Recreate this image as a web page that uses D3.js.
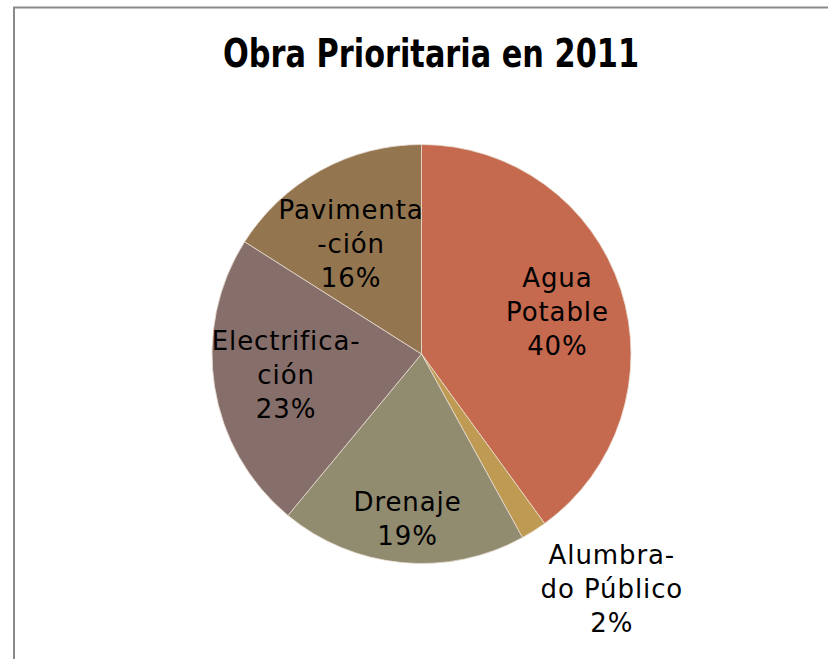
<!DOCTYPE html>
<html>
<head>
<meta charset="utf-8">
<script src="https://cdn.jsdelivr.net/npm/d3@7"></script>
<style>
  body { margin: 0; background: #fff; }
  svg text { font-family: "DejaVu Sans", sans-serif; fill: #000; }
</style>
</head>
<body>
<div id="chart"></div>
<script>
var width = 828, height = 659;

// chart data
var categories = ["Agua Potable", "Alumbrado Público", "Drenaje", "Electrificación", "Pavimentación"];
var values = [40, 2, 19, 23, 16];
var labelLines = [["Agua", "Potable"], ["Alumbra-", "do Público"], ["Drenaje"], ["Electrifica-", "ción"], ["Pavimenta", "-ción"]];
var colors = ["#c5694f", "#bf9a52", "#918b70", "#866e6a", "#937550"];
var title = "Obra Prioritaria en 2011";

// label placement (Excel "best fit"): angle offset in degrees, radius factor
var labelShift = [4.2, -5.6, -0.8, -3.5, -6];
var labelDist = [0.668, 1.476, 0.832, 0.662, 0.589];

var cx = 421.5, cy = 354, r = 209.5, lineH = 34;

var svg = d3.select("#chart").append("svg")
  .attr("width", width).attr("height", height);

// outer chart border
svg.append("rect")
  .attr("x", 14).attr("y", 7.5)
  .attr("width", 900).attr("height", 900)
  .attr("fill", "none").attr("stroke", "#8a8a8a").attr("stroke-width", 2);

svg.append("text")
  .attr("x", 431).attr("y", 67)
  .attr("text-anchor", "middle")
  .attr("textLength", 416)
  .attr("lengthAdjust", "spacingAndGlyphs")
  .style("font-weight", "bold").style("font-size", "39px")
  .text(title);

var pie = d3.pie().sort(null).value(d => d.value);
var arc = d3.arc().innerRadius(0).outerRadius(r);

var data = categories.map((c, i) => ({name: c, value: values[i], lines: labelLines[i], color: colors[i], i: i}));
var arcs = pie(data);

var g = svg.append("g").attr("transform", "translate(" + cx + "," + cy + ")");

g.selectAll("path")
  .data(arcs)
  .enter().append("path")
  .attr("d", arc)
  .attr("fill", d => d.data.color)
  .attr("stroke", "#e8ddd0")
  .attr("stroke-width", 0.8);

var labels = g.selectAll("text.lbl")
  .data(arcs)
  .enter().append("text")
  .attr("class", "lbl")
  .attr("text-anchor", "middle")
  .style("font-size", "26px")
  .style("letter-spacing", "0.9px")
  .attr("transform", d => {
    var a = (d.startAngle + d.endAngle) / 2 + labelShift[d.data.i] * Math.PI / 180;
    var rr = r * labelDist[d.data.i];
    return "translate(" + (rr * Math.sin(a)) + "," + (-rr * Math.cos(a)) + ")";
  });

labels.each(function(d) {
  var lines = d.data.lines.concat([d.data.value + "%"]);
  var n = lines.length;
  d3.select(this).selectAll("tspan")
    .data(lines)
    .enter().append("tspan")
    .attr("x", 0)
    .attr("y", (t, k) => (k - (n - 1) / 2) * lineH)
    .text(t => t);
});
</script>
</body>
</html>
